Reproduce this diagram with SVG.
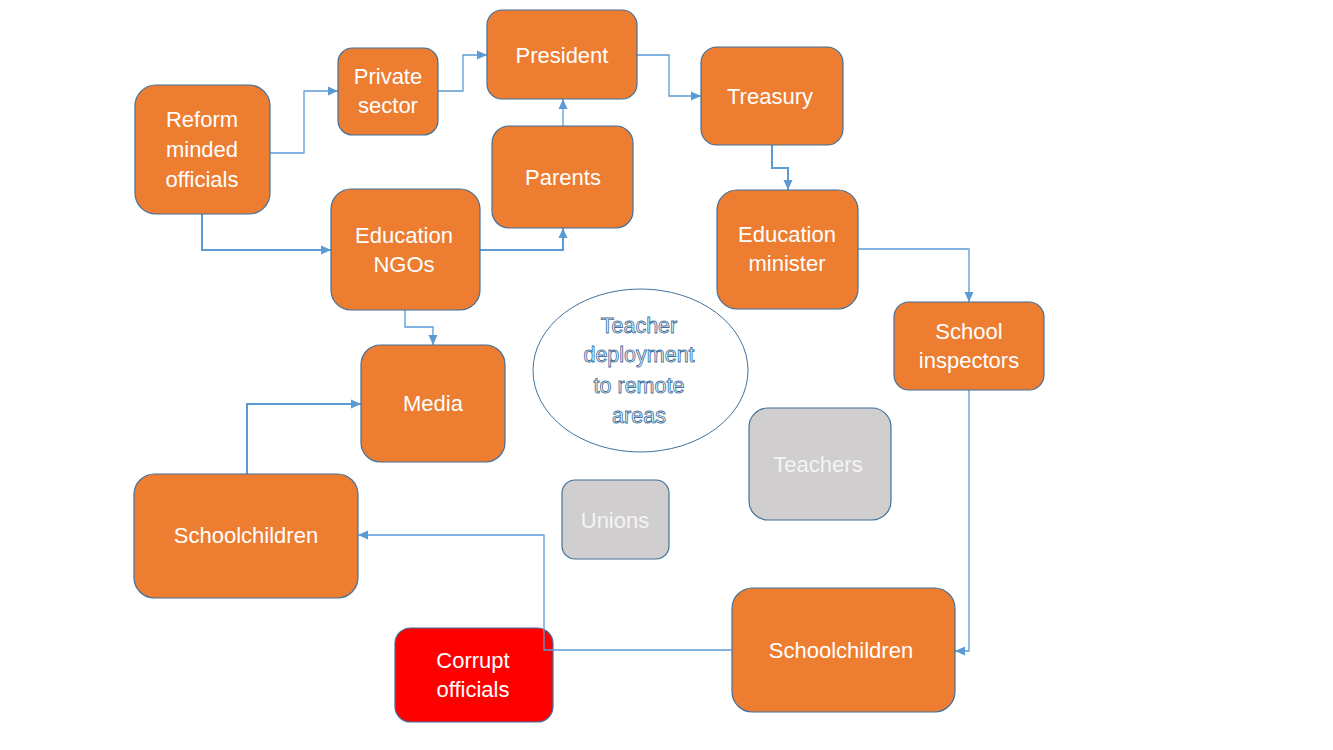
<svg xmlns="http://www.w3.org/2000/svg" width="1333" height="750" viewBox="0 0 1333 750">
<style>
.box{stroke:#41719C;stroke-width:1.2}
.o{fill:#ED7D31}
.g{fill:#D0CECE}
.r{fill:#FF0000}
.t{font-family:"Liberation Sans",Arial,sans-serif;font-size:22px;fill:#FFFFFF;text-anchor:middle}
.tg{fill:#F4F4F4}
.c{fill:none;stroke:#5B9BD5;stroke-width:1.3}
.c2{fill:none;stroke:#5B9BD5;stroke-width:2}
.et{font-family:"Liberation Sans",Arial,sans-serif;font-size:21.5px;fill:#FFFFFF;stroke:#41719C;stroke-width:0.85;text-anchor:middle}
</style>
<defs>
<marker id="a" markerUnits="userSpaceOnUse" markerWidth="10" markerHeight="10" viewBox="0 0 10 10" refX="10" refY="5" orient="auto">
<path d="M0,0.5 L10,5 L0,9.5 Z" fill="#5B9BD5"/>
</marker>
</defs>
<rect width="1333" height="750" fill="#FFFFFF"/>
<g id="connectors">
<path class="c" d="M270,153 H304 V91 H338" marker-end="url(#a)"/>
<path class="c" d="M438,91 H463 V55 H487" marker-end="url(#a)"/>
<path class="c2" d="M202,214 V250 H331" marker-end="url(#a)"/>
<path class="c2" d="M480,250 H563 V228" marker-end="url(#a)"/>
<path class="c" d="M563,126 V99" marker-end="url(#a)"/>
<path class="c" d="M637,55 H669 V96 H701" marker-end="url(#a)"/>
<path class="c2" d="M772,145 V168 H788 V190" marker-end="url(#a)"/>
<path class="c" d="M858,249 H969 V302" marker-end="url(#a)"/>
<path class="c" d="M969,390 V651 H955" marker-end="url(#a)"/>
<path class="c" d="M405,310 V327 H433 V345" marker-end="url(#a)"/>
<path class="c2" d="M247,474 V404 H361" marker-end="url(#a)"/>
</g>
<g id="reform"><rect class="box o" x="135" y="85" width="135" height="129" rx="21"/><text class="t" x="202" y="127">Reform</text><text class="t" x="202" y="157">minded</text><text class="t" x="202" y="187">officials</text></g>
<g id="private"><rect class="box o" x="338" y="48" width="100" height="87" rx="14.5"/><text class="t" x="388" y="84">Private</text><text class="t" x="388" y="113">sector</text></g>
<g id="president"><rect class="box o" x="487" y="10" width="150" height="89" rx="15"/><text class="t" x="562" y="63">President</text></g>
<g id="parents"><rect class="box o" x="492" y="126" width="141" height="102" rx="17"/><text class="t" x="563" y="185">Parents</text></g>
<g id="ngos"><rect class="box o" x="331" y="189" width="149" height="121" rx="20"/><text class="t" x="404" y="243">Education</text><text class="t" x="404" y="272">NGOs</text></g>
<g id="treasury"><rect class="box o" x="701" y="47" width="142" height="98" rx="16"/><text class="t" x="770" y="104">Treasury</text></g>
<g id="edminister"><rect class="box o" x="717" y="190" width="141" height="119" rx="20"/><text class="t" x="787" y="242">Education</text><text class="t" x="787" y="271">minister</text></g>
<g id="inspectors"><rect class="box o" x="894" y="302" width="150" height="88" rx="15"/><text class="t" x="969" y="339">School</text><text class="t" x="969" y="368">inspectors</text></g>
<g id="media"><rect class="box o" x="361" y="345" width="144" height="117" rx="19.5"/><text class="t" x="433" y="411">Media</text></g>
<g id="theme"><ellipse cx="640.5" cy="370.5" rx="107.5" ry="81.5" fill="#FFFFFF" stroke="#41719C" stroke-width="1"/><text class="et" x="639" y="333">Teacher</text><text class="et" x="639" y="362">deployment</text><text class="et" x="639" y="393">to remote</text><text class="et" x="639" y="423">areas</text></g>
<g id="teachers"><rect class="box g" x="749" y="408" width="142" height="112" rx="19"/><text class="t tg" x="818" y="472">Teachers</text></g>
<g id="unions"><rect class="box g" x="562" y="480" width="107" height="79" rx="13"/><text class="t tg" x="615" y="528">Unions</text></g>
<g id="schoolchildren-left"><rect class="box o" x="134" y="474" width="224" height="124" rx="20.5"/><text class="t" x="246" y="543">Schoolchildren</text></g>
<g id="schoolchildren-right"><rect class="box o" x="732" y="588" width="223" height="124" rx="20.5"/><text class="t" x="841" y="658">Schoolchildren</text></g>
<g id="corrupt"><rect class="box r" x="395" y="628" width="158" height="94" rx="15.5"/><text class="t" x="473" y="668">Corrupt</text><text class="t" x="473" y="697">officials</text></g>
<g id="connectors-top">
<path class="c" d="M732,650 H544 V535 H358" marker-end="url(#a)"/>
</g>
</svg>
